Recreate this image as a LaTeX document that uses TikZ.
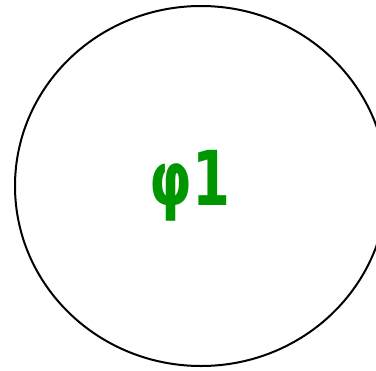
\documentclass[tikz,border=0pt]{standalone}
\usepackage{fontspec}
\newfontfamily\phifont[FakeStretch=0.72]{DejaVu Sans}
\usetikzlibrary{positioning,shapes.geometric}

\definecolor{phigreen}{RGB}{0,150,0}
\tikzset{
  ring/.style={draw=black,line width=2bp,ellipse,inner sep=0pt,minimum width=372bp,minimum height=360bp},
  phitext/.style={text=phigreen,font=\phifont\bfseries\fontsize{76}{76}\selectfont,inner sep=0pt,anchor=base}
}

\begin{document}
\begin{tikzpicture}[x=1bp,y=1bp]
    \useasboundingbox (0,0) rectangle (376,-371);
    % Kreis und Beschriftung
    \node[ring] (kreis) at (201,-186) {};
    \node[phitext] (phi) at (190,-205) {φ1};
  \end{tikzpicture}
\end{document}
